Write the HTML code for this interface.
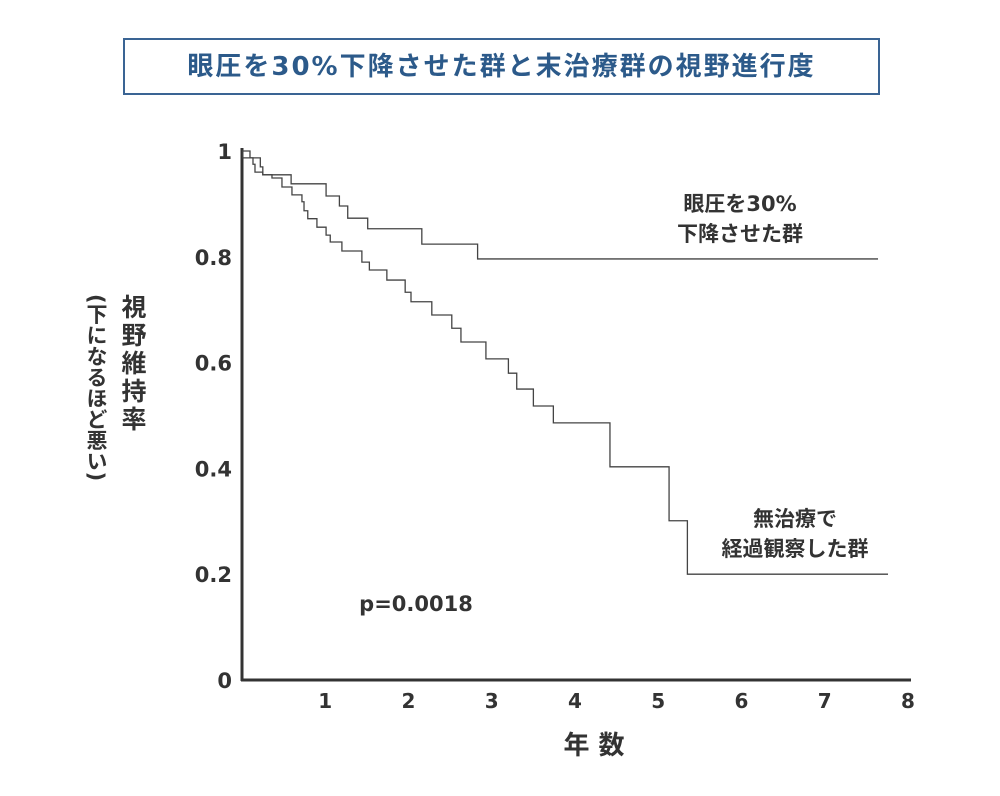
<!DOCTYPE html>
<html><head><meta charset="utf-8"><style>
body{margin:0;background:#fff;width:1000px;height:796px;overflow:hidden;font-family:"DejaVu Sans","Noto Sans CJK JP",sans-serif;}
#title{position:absolute;left:123px;top:38px;width:757px;height:57px;border:2px solid #3a6494;box-sizing:border-box;color:#2c5a8a;font-weight:bold;font-size:26px;text-align:center;line-height:54px;letter-spacing:2px;}
.yt{position:absolute;writing-mode:vertical-rl;font-weight:bold;color:#333;}
</style></head><body>
<div id="title">眼圧を30%下降させた群と末治療群の視野進行度</div>
<div class="yt" style="left:114px;top:294px;font-size:25px;letter-spacing:3px;">視野維持率</div>
<div class="yt" style="left:81px;top:294px;font-size:21px;">(下になるほど悪い)</div>
<svg id="chart" width="1000" height="796" style="position:absolute;left:0;top:0"></svg>
<script>
const xTicks=[1,2,3,4,5,6,7,8];
const yTicks=[0,0.2,0.4,0.6,0.8,1];
const yTickLabels=["0","0.2","0.4","0.6","0.8","1"];
const treatedTimes=[0.01,0.22,0.25,0.59,1.01,1.17,1.27,1.51,2.16,2.83];
const treatedLevels=[0.987,0.970,0.955,0.938,0.915,0.896,0.873,0.853,0.824,0.796];
const treatedEnd=7.64;
const untreatedTimes=[0.096,0.132,0.156,0.25,0.36,0.48,0.60,0.72,0.745,0.79,0.90,1.01,1.06,1.20,1.44,1.53,1.74,1.96,2.03,2.28,2.52,2.63,2.93,3.20,3.30,3.50,3.74,4.42,5.13,5.35];
const untreatedLevels=[0.987,0.975,0.960,0.955,0.949,0.932,0.917,0.904,0.887,0.872,0.856,0.841,0.828,0.811,0.790,0.775,0.756,0.733,0.715,0.690,0.665,0.639,0.607,0.580,0.550,0.518,0.486,0.403,0.301,0.200];
const untreatedEnd=7.76;
const NS="http://www.w3.org/2000/svg";
const svg=document.getElementById('chart');
const X=t=>242+t*83.25;
const Y=v=>680-v*529;
function mk(tag,attrs,txt){const e=document.createElementNS(NS,tag);for(const k in attrs)e.setAttribute(k,attrs[k]);if(txt!==undefined)e.textContent=txt;svg.appendChild(e);return e;}
let e=mk('line',{x1:242,y1:148,x2:242,y2:681,stroke:'#333','stroke-width':3});


e=mk('line',{x1:241,y1:680,x2:911,y2:680,stroke:'#333','stroke-width':3});


xTicks.forEach(t=>{const el=mk('text',{x:X(t),y:708,'text-anchor':'middle','font-size':20,'font-weight':'bold',fill:'#333'},String(t));

});
yTicks.forEach((v,i)=>{const el=mk('text',{x:232,y:Y(v)+8,'text-anchor':'end','font-size':21,'font-weight':'bold',fill:'#333'},yTickLabels[i]);

});
function step(times,levels,end){let d='M'+X(0)+','+Y(1);times.forEach((t,i)=>{d+=' H'+X(t)+' V'+Y(levels[i]);});d+=' H'+X(end);return d;}
e=mk('path',{d:step(treatedTimes,treatedLevels,treatedEnd),fill:'none',stroke:'#444','stroke-width':1.3});


e=mk('path',{d:step(untreatedTimes,untreatedLevels,untreatedEnd),fill:'none',stroke:'#444','stroke-width':1.3});


const labels=[["眼圧を30%",740,211,'treated-label',21],["下降させた群",740,241,'treated-label',21],["無治療で",795,526,'untreated-label',21],["経過観察した群",795,556,'untreated-label',21],["p=0.0018",416,611,'p-value',21],["年 数",594,754,'x-axis-title',26]];
labels.forEach(l=>{const el=mk('text',{x:l[1],y:l[2],'text-anchor':'middle','font-size':l[4],'font-weight':'bold',fill:'#333'},l[0]);

});
</script>
</body></html>
